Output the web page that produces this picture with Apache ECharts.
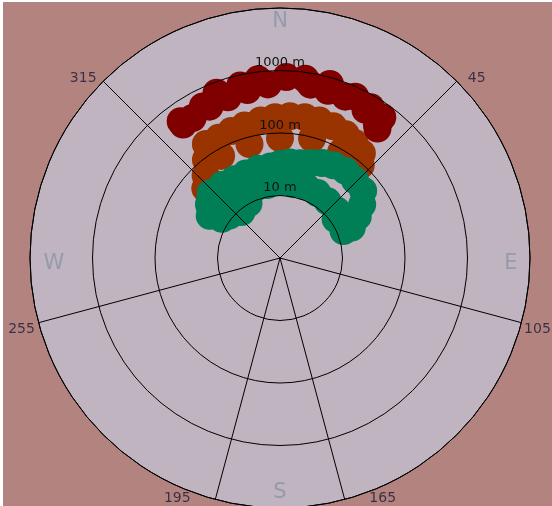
<!DOCTYPE html>
<html>
<head>
<meta charset="utf-8">
<script src="https://cdn.jsdelivr.net/npm/echarts/dist/echarts.min.js"></script>
<style>
  html, body { margin: 0; padding: 0; background: #ffffff; }
  #bg { position: absolute; left: 3px; top: 2px; right: 0; bottom: 0; background: #b3837f; }
  #chart { position: absolute; left: 0; top: 0; width: 552px; height: 506px; }
</style>
</head>
<body>
<div id="bg"></div>
<div id="chart"></div>
<script>
// Covered spots as [distance in m, bearing in degrees], one list per range class.
const bandFar = [
  [525, 333], [679, 339], [679, 347], [759, 353], [787, 2], [787, 8], [787, 16],
  [705, 25], [655, 31], [608, 36],
  [436, 328], [470, 335], [506, 342], [545, 349], [608, 356], [655, 10], [608, 16],
  [608, 22], [545, 30], [436, 36], [391, 37],
  [506, 324], [436, 324]
];
const bandMid = [
  [150, 327], [144, 333], [150, 339], [156, 345], [167, 352], [180, 358], [187, 4],
  [194, 10], [194, 16], [187, 22], [174, 28], [156, 33], [134, 38], [93, 41],
  [144, 327], [93, 323], [60, 318], [43, 313],
  [77, 330], [77, 345], [83, 0], [96, 15], [89.5, 30], [62, 40]
];
const bandNear = [
  [33.1, 313], [26.5, 307], [20.5, 301], [13.2, 304], [11.4, 310], [9.1, 320], [10.2, 330], [19, 320],
  [30.8, 322], [28.6, 330], [28.6, 338], [29.6, 346], [29.6, 354], [31.9, 0], [34.4, 6],
  [35.6, 12], [39.8, 18], [46, 24], [51.5, 30], [55.5, 37], [53.5, 44], [51.5, 51],
  [37, 57], [25.6, 62], [17.7, 67], [12.7, 67], [15.3, 60], [12.2, 55],
  [15.3, 340], [15.3, 350], [16.4, 0], [15.8, 10], [16.4, 20], [15.8, 30], [15.3, 40], [15.3, 50]
];

// Grid rings (m) and the bearings that carry a spoke and a label.
const ringDistances = [10, 100, 1000];
const spokeBearings = [315, 45, 105, 165, 195, 255];
const compassNames = ['N', 'E', 'S', 'W'];
const compassBearings = [0, 90, 180, 270];

const RANGE_MIN = 1;
const RANGE_MAX = 10000;
const SPOT_RADIUS = 14;
const FONT = '"DejaVu Sans", Verdana, sans-serif';

// Label nudges (px) from the outer rim point of each bearing.
const spokeLabelNudge = {
  315: [-20, -3], 45: [20, -3], 255: [-17, 7], 105: [16, 7], 195: [-38, -1], 165: [38, -1]
};
const compassNudge = { 0: [0, 14], 90: [-19, 6], 180: [0, -15], 270: [24, 6] };

const polarBox = { center: [280, 258], radius: 250 };

const angleBase = {
  type: 'value', min: 0, max: 360, interval: 15,
  startAngle: 90, clockwise: true
};
const radiusBase = { type: 'log', logBase: 10, min: RANGE_MIN, max: RANGE_MAX };

// one colour per 15-degree split line: only the spoke bearings are visible
const spokeColors = [];
for (let i = 0; i < 24; i++) {
  spokeColors.push(spokeBearings.indexOf(i * 15) >= 0 ? '#000000' : 'rgba(0,0,0,0)');
}

// each spot is a solid disc placed through the polar scales
function band(name, pts, color) {
  return {
    type: 'custom', name: name, coordinateSystem: 'polar', polarIndex: 0,
    silent: true, z: 2, data: pts,
    renderItem: function (params, api) {
      const p = api.coord([api.value(0), api.value(1)]);
      return {
        type: 'circle',
        shape: { cx: p[0], cy: p[1], r: SPOT_RADIUS },
        style: { fill: color, stroke: null, lineWidth: 0 }
      };
    }
  };
}

const chart = echarts.init(document.getElementById('chart'), null, { renderer: 'canvas' });
chart.setOption({
  backgroundColor: 'transparent',
  animation: false,
  polar: [polarBox, polarBox],
  angleAxis: [
    Object.assign({}, angleBase, {
      polarIndex: 0, z: 0,
      axisLine: { show: false }, axisTick: { show: false }, axisLabel: { show: false },
      splitLine: { show: false }, splitArea: { show: false }
    }),
    Object.assign({}, angleBase, {
      polarIndex: 1, z: 10,
      axisLine: { show: true, lineStyle: { color: '#000000', width: 1 } },
      axisTick: { show: false }, axisLabel: { show: false },
      splitLine: { show: true, lineStyle: { color: spokeColors, width: 1 } },
      splitArea: { show: false }
    })
  ],
  radiusAxis: [
    Object.assign({}, radiusBase, {
      polarIndex: 0, z: 0,
      axisLine: { show: false }, axisTick: { show: false }, axisLabel: { show: false },
      splitLine: { show: false },
      splitArea: { show: true, areaStyle: { color: ['#bfb4c0'] } }
    }),
    Object.assign({}, radiusBase, {
      polarIndex: 1, z: 10,
      axisLine: { show: false }, axisTick: { show: false },
      splitLine: { show: true, lineStyle: { color: '#000000', width: 1 } },
      splitArea: { show: false },
      axisLabel: {
        show: true, margin: 0, align: 'center', verticalAlign: 'bottom',
        color: '#111111', fontSize: 13, fontFamily: FONT, padding: [0, 0, 1, 0],
        formatter: function (v) { return ringDistances.indexOf(v) >= 0 ? v + ' m' : ''; }
      }
    })
  ],
  series: [
    band('100 m', bandMid, '#993300'),
    band('1000 m', bandFar, '#800000'),
    band('10 m', bandNear, '#007f56'),
    {
      type: 'scatter', name: 'bearings', coordinateSystem: 'polar', polarIndex: 1,
      symbolSize: 1, silent: true, z: 12,
      itemStyle: { color: 'transparent' },
      data: spokeBearings.map(function (b) {
        return {
          value: [RANGE_MAX, b],
          label: {
            show: true, position: 'inside', offset: spokeLabelNudge[b],
            formatter: String(b), color: '#1c1c38', fontSize: 14, fontFamily: FONT
          }
        };
      })
    },
    {
      type: 'scatter', name: 'compass', coordinateSystem: 'polar', polarIndex: 1,
      symbolSize: 1, silent: true, z: 12,
      itemStyle: { color: 'transparent' },
      data: compassBearings.map(function (b, i) {
        return {
          value: [RANGE_MAX, b],
          label: {
            show: true, position: 'inside', offset: compassNudge[b],
            formatter: compassNames[i], color: '#8b95a5', fontSize: 21, fontFamily: FONT
          }
        };
      })
    }
  ]
});
</script>
</body>
</html>
